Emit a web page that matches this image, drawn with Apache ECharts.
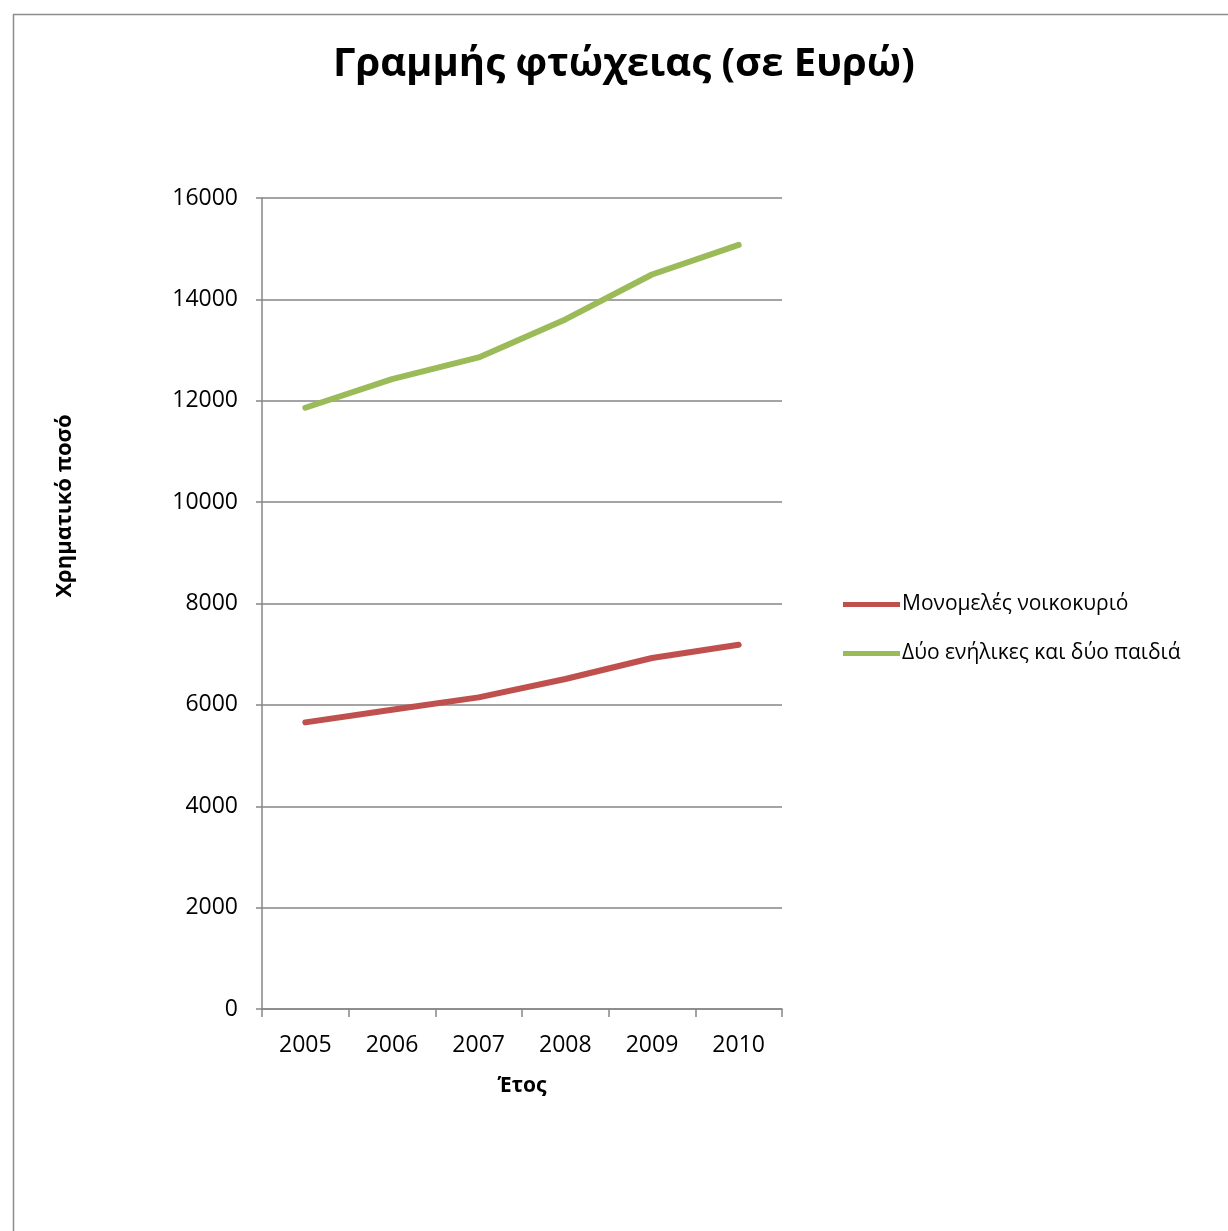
<!DOCTYPE html>
<html>
<head>
<meta charset="utf-8">
<script src="https://cdn.jsdelivr.net/npm/echarts@6/dist/echarts.min.js"></script>
<style>
html,body{margin:0;padding:0;background:#fff;}
#chart{width:1228px;height:1231px;}
</style>
</head>
<body>
<div id="chart"></div>
<script>
const categories = ['2005','2006','2007','2008','2009','2010'];
const singleHousehold = [5655, 5903, 6148, 6510, 6924, 7186];
const twoAdultsTwoKids = [11862, 12428, 12855, 13604, 14491, 15074];
const seriesNames = ['Μονομελές νοικοκυριό', 'Δύο ενήλικες και δύο παιδιά'];
const titleText = 'Γραμμής φτώχειας (σε Ευρώ)';
const xName = 'Έτος';
const yName = 'Χρηματικό ποσό';

const FONT = '"Open Sans", "Noto Sans", sans-serif';
const chart = echarts.init(document.getElementById('chart'));
chart.setOption({
  animation: false,
  backgroundColor: '#fff',
  title: {
    text: titleText,
    left: 333,
    top: 45,
    padding: 0,
    textStyle: { fontFamily: FONT, fontWeight: 'bold', fontSize: 40, color: '#000' }
  },
  graphic: [
    { type: 'rect', shape: { x: 13.5, y: 14.5, width: 1240, height: 1240 },
      style: { fill: 'none', stroke: '#8c8c8c', lineWidth: 1.5 }, silent: true },
    { type: 'text', x: 65, y: 506, rotation: Math.PI / 2,
      style: { text: yName, fontFamily: FONT, fontWeight: 'bold', fontSize: 22, fill: '#000',
               align: 'center', verticalAlign: 'middle' } }
  ],
  legend: {
    orient: 'vertical',
    left: 838,
    top: 589,
    itemWidth: 57,
    itemHeight: 5,
    itemGap: 28,
    icon: 'rect',
    textStyle: { fontFamily: FONT, fontSize: 21, color: '#000', padding: [0, 0, 0, -3] },
    data: seriesNames
  },
  grid: { left: 262, top: 198, width: 520, height: 811, containLabel: false },
  xAxis: {
    type: 'category',
    data: categories,
    boundaryGap: true,
    name: xName,
    nameLocation: 'middle',
    nameGap: 67,
    nameTextStyle: { fontFamily: FONT, fontWeight: 'bold', fontSize: 21, color: '#000' },
    axisLine: { lineStyle: { color: '#868686', width: 1.5 } },
    axisTick: { show: true, length: 8, inside: false, lineStyle: { color: '#868686', width: 1.5 } },
    axisLabel: { fontFamily: FONT, fontSize: 23, color: '#000', margin: 25 },
    splitLine: { show: false }
  },
  yAxis: {
    type: 'value',
    min: 0,
    max: 16000,
    interval: 2000,
    axisLine: { show: true, lineStyle: { color: '#868686', width: 1.5 } },
    axisTick: { show: true, length: 6, lineStyle: { color: '#868686', width: 1.5 } },
    axisLabel: { fontFamily: FONT, fontSize: 23, color: '#000', margin: 24,
                 formatter: function (v) { return String(v); } },
    splitLine: { show: true, lineStyle: { color: '#868686', width: 1.5 } }
  },
  series: [
    { name: seriesNames[0], type: 'line', data: singleHousehold, symbol: 'none',
      color: '#C0504D', lineStyle: { width: 6, color: '#C0504D', cap: 'round' } },
    { name: seriesNames[1], type: 'line', data: twoAdultsTwoKids, symbol: 'none',
      color: '#9BBB59', lineStyle: { width: 6, color: '#9BBB59', cap: 'round' } }
  ]
});
</script>
</body>
</html>
